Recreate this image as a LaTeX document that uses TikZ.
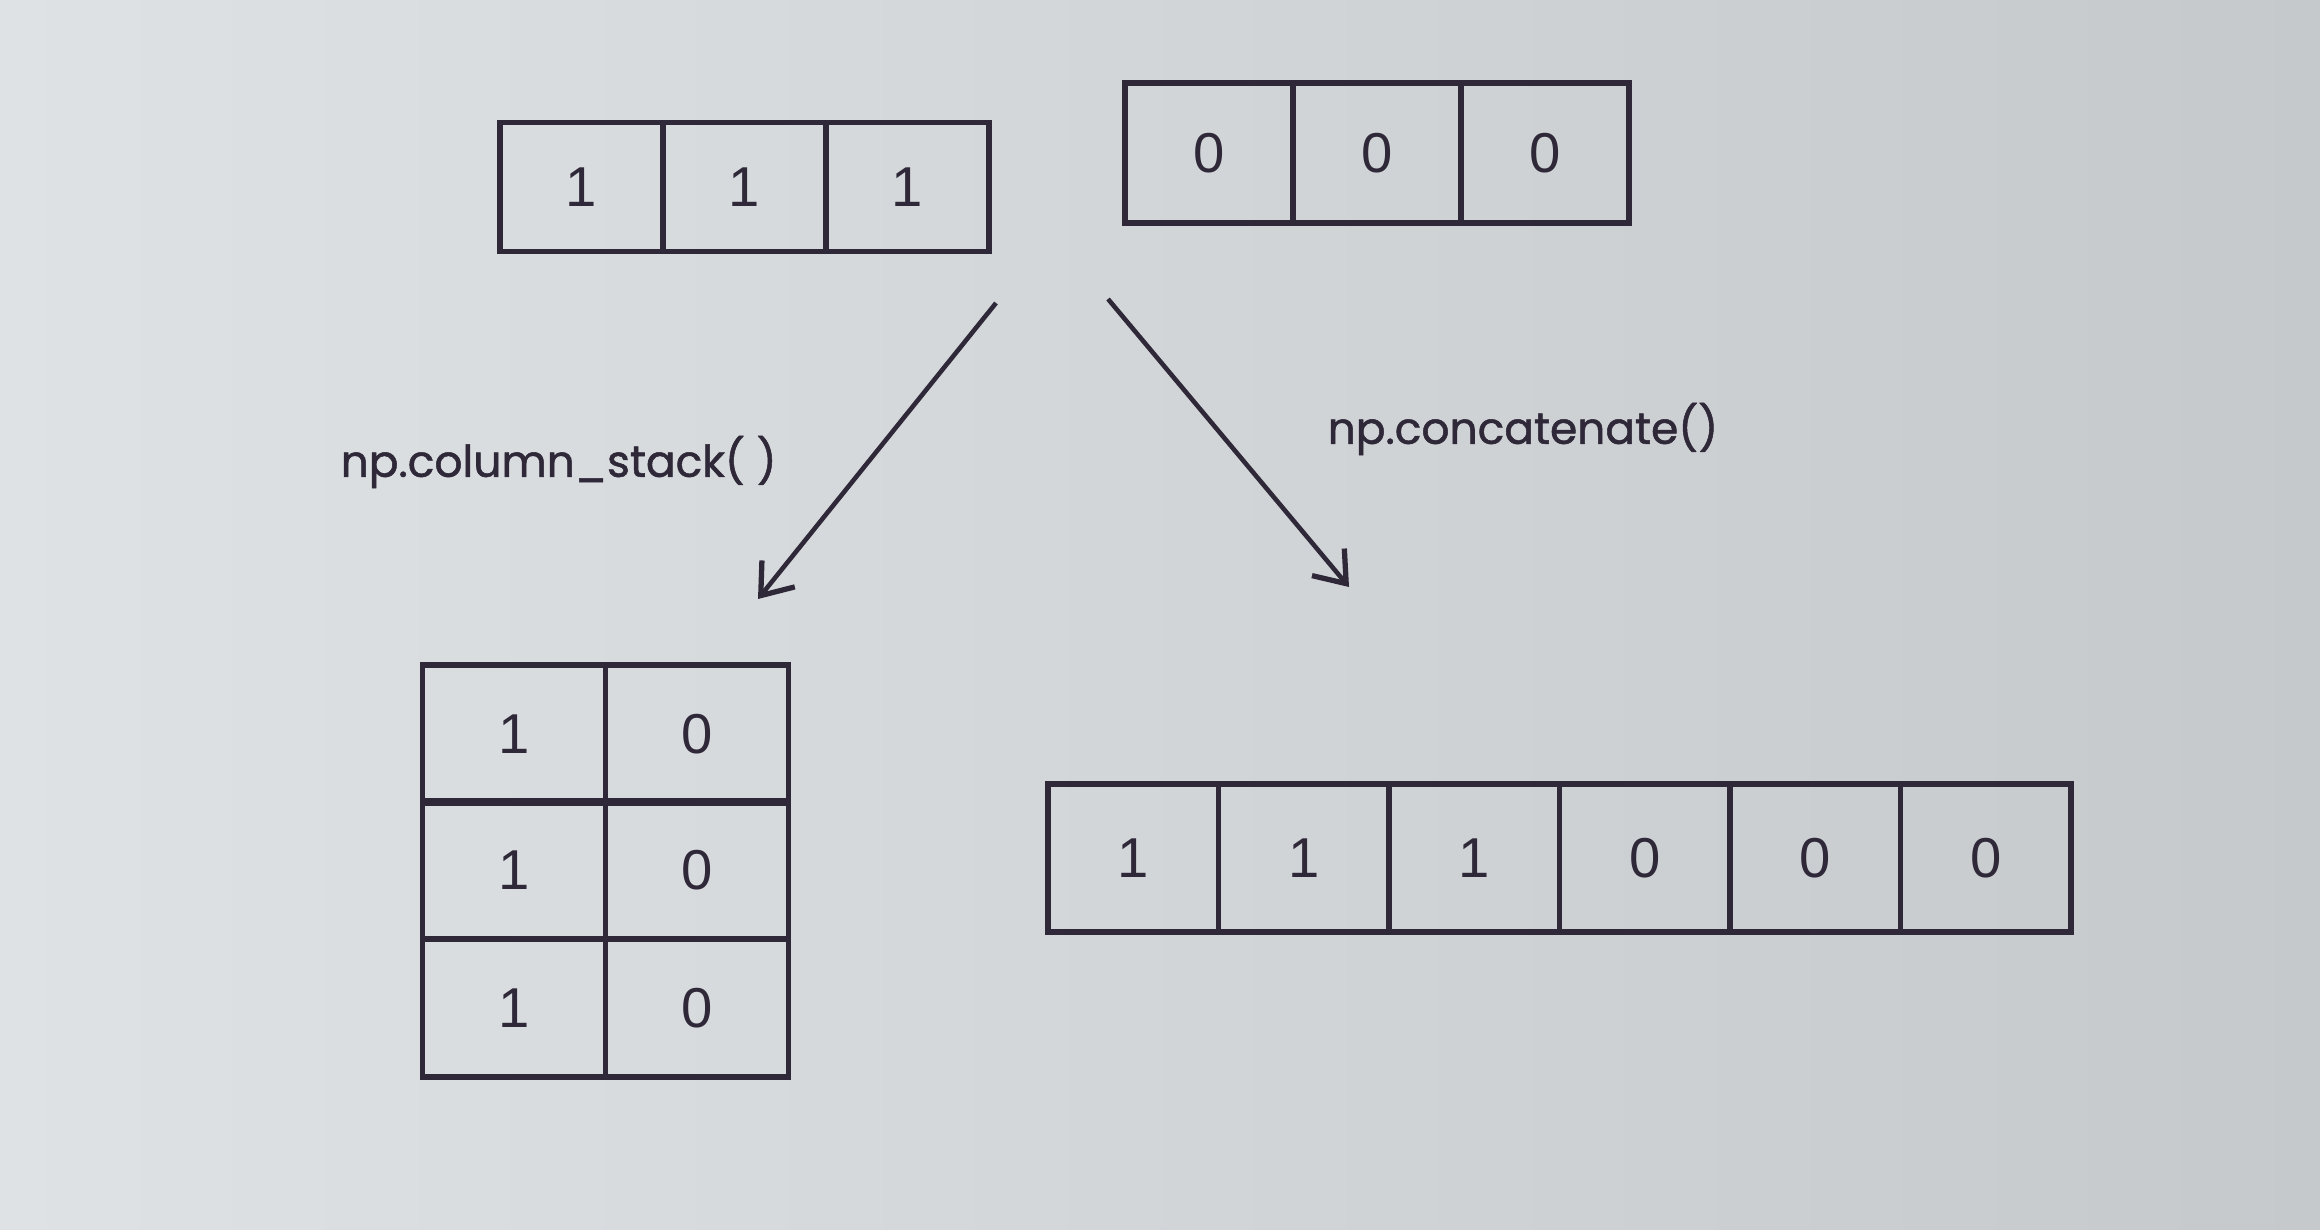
\documentclass[tikz,border=0pt]{standalone}
\usepackage{fontspec}
\setmainfont{Liberation Sans}
\newfontfamily\handfont[FakeBold=1.2]{Poppins}
\usetikzlibrary{arrows.meta}
\definecolor{paper}{HTML}{DFE2E5}
\definecolor{paperdark}{HTML}{C6C9CC}
\definecolor{ink}{HTML}{2E2838}
\tikzset{
	cell/.style={draw=ink, line width=1.6pt, inner sep=0pt, outer sep=0pt, font=\fontsize{16}{19}\selectfont, text=ink},
	fnlabel/.style={font=\handfont\fontsize{12.5}{15}\selectfont, text=ink, inner sep=0pt, anchor=west},
	fnarrow/.style={draw=ink, line width=1.3pt, -{Straight Barb[length=8pt,width=12pt,line width=1.5pt]}}
}
\begin{document}
\begin{tikzpicture}[x=0.1mm,y=-0.1mm]
		\shade[left color=paper, right color=paperdark] (0,0) rectangle (2320,1229);
		\useasboundingbox (0,0) rectangle (2320,1229);
		% the two input arrays
		\foreach \v [count=\i] in {1,1,1}
			\node[cell, minimum width=1.63cm, minimum height=1.29cm] (one\i) at ({500+163*(\i-0.5)},187) {\v};
		\foreach \v [count=\i] in {0,0,0}
			\node[cell, minimum width=1.68cm, minimum height=1.40cm] (zero\i) at ({1125+168*(\i-0.5)},153) {\v};
		% column_stack result
		\foreach \r [count=\j] in {734,870,1008}{
			\node[cell, minimum width=1.83cm, minimum height=1.38cm] (col\j a) at (514,\r) {1};
			\node[cell, minimum width=1.83cm, minimum height=1.38cm] (col\j b) at (697,\r) {0};
		}
		% concatenate result
		\foreach \v [count=\i] in {1,1,1,0,0,0}
			\node[cell, minimum width=1.705cm, minimum height=1.48cm] (cat\i) at ({1048+170.5*(\i-0.5)},858) {\v};
		% arrows and labels
		\coordinate (splitL) at (996,303);
		\coordinate (splitR) at (1108,299);
		\coordinate (endL) at (758,599);
		\coordinate (endR) at (1349,587);
		\draw[fnarrow] (splitL) -- (endL);
		\draw[fnarrow] (splitR) -- (endR);
		\node[fnlabel] (lblstack) at (340,462) {np.column\_stack( )};
		\node[fnlabel] (lblcat) at (1327,429) {np.concatenate()};
\end{tikzpicture}
\end{document}
